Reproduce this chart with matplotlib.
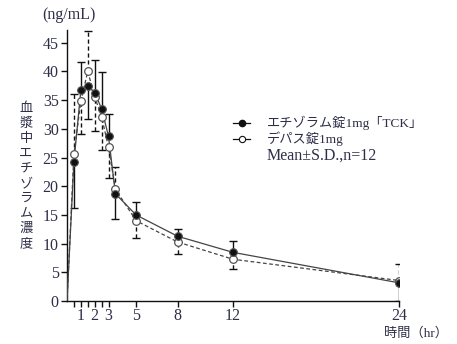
import matplotlib
matplotlib.use("Agg")
import matplotlib.pyplot as plt
from matplotlib.lines import Line2D

# Data
times = [0, 0.5, 1, 1.5, 2, 2.5, 3, 3.5, 5, 8, 12, 24]
etizolam_tck = [0, 24.2, 36.7, 37.4, 36.3, 33.5, 28.7, 18.7, 15.0, 11.3, 8.5, 3.2]
depas = [0, 25.6, 34.8, 40.0, 35.6, 32.1, 26.8, 19.5, 14.0, 10.3, 7.3, 3.6]
# one-sided SD bars as drawn (lower, upper)
tck_sd_lower = [0, 8.0, 0, 5.7, 0, 0, 0, 4.4, 0, 0, 0, 3.2]
tck_sd_upper = [0, 0, 5.0, 0, 5.6, 6.4, 3.8, 0, 2.3, 1.3, 1.9, 0]
depas_sd_lower = [0, 0, 5.7, 0, 5.9, 5.8, 5.4, 0, 3.0, 2.1, 1.7, 0]
depas_sd_upper = [0, 10.4, 0, 7.0, 0, 0, 0, 3.8, 0, 0, 0, 2.8]

major_ticks = [1, 2, 3, 5, 8, 12, 24]
minor_ticks = [0.5, 1.5, 2.5]
y_ticks = [0, 5, 10, 15, 20, 25, 30, 35, 40, 45]

txt = '#2e2e48'
serif_jp = ['Liberation Serif', 'Noto Sans CJK JP']
plt.rcParams['font.family'] = serif_jp

fig = plt.figure(figsize=(4.57, 3.44), dpi=100)
ax = fig.add_axes([67/457, (344-301.2)/344, (399-67)/457, (301.2-30)/344])

eb1 = ax.errorbar(times[1:], etizolam_tck[1:], yerr=[tck_sd_lower[1:], tck_sd_upper[1:]],
                  fmt='none', ecolor='#111111', elinewidth=1.0, capsize=3, capthick=1.0, zorder=2)
eb2 = ax.errorbar(times[1:], depas[1:], yerr=[depas_sd_lower[1:], depas_sd_upper[1:]],
                  fmt='none', ecolor='#111111', elinewidth=1.0, capsize=3, capthick=1.0, zorder=2)
for c in eb2[2]:
    c.set_linestyle((0, (3, 2)))

ax.plot(times, depas, color='#444444', lw=0.9, ls=(0, (3, 2)), zorder=3)
ax.plot(times, etizolam_tck, color='#444444', lw=0.9, zorder=3)
ax.plot(times[1:], depas[1:], 'o', ms=5.5, mfc='white', mec='#555555', mew=0.9, zorder=4)
ax.plot(times[1:], etizolam_tck[1:], 'o', ms=5.5, mfc='#111111', mec='#555555', mew=0.8, zorder=5)

ax.set_xlim(0, 24)
ax.set_ylim(0, 47.2)
for s in ['top', 'right']:
    ax.spines[s].set_visible(False)
for s in ['left', 'bottom']:
    ax.spines[s].set_linewidth(1.0)
    ax.spines[s].set_color('#111111')
ax.set_xticks(major_ticks)
ax.set_xticklabels([str(t) for t in major_ticks])
ax.set_xticks(minor_ticks, minor=True)
ax.set_yticks(y_ticks)
ax.tick_params(axis='both', direction='out', length=4, width=1.0, colors='#111111',
               labelcolor=txt, labelsize=11.5)
ax.tick_params(axis='x', which='minor', direction='out', length=4, width=1.0, colors='#111111')
ax.tick_params(axis='y', pad=2)
ax.tick_params(axis='x', pad=1)

# labels
fig.text(42/457, 1 - 15/344, '(ng/mL)', fontsize=11.5, color=txt, va='center', ha='left')
ylabel = '\n'.join('血漿中エチゾラム濃度')
fig.text(26/457, 1 - 176/344, ylabel, fontsize=9.5, color=txt, va='center', ha='center',
         linespacing=1.2, family=['Noto Sans CJK JP'])
fig.text(448/457, 1 - 333/344, '時間（hr）', fontsize=9.5, color=txt, va='center', ha='right')

# legend
ly = [123, 139, 156]
fig.add_artist(Line2D([233/457, 250/457], [1 - ly[0]/344]*2, color='#111111', lw=0.9))
fig.add_artist(Line2D([241.5/457], [1 - ly[0]/344], marker='o', ms=4.5, mfc='#111111', mec='#111111', lw=0))
fig.add_artist(Line2D([233/457, 250/457], [1 - ly[1]/344]*2, color='#111111', lw=0.9))
fig.add_artist(Line2D([241.5/457], [1 - ly[1]/344], marker='o', ms=4.5, mfc='white', mec='#111111', mew=0.8, lw=0))
fig.text(267/457, 1 - ly[0]/344, 'エチゾラム錠1mg「TCK」', fontsize=9.5, color=txt, va='center', ha='left')
fig.text(267/457, 1 - ly[1]/344, 'デパス錠1mg', fontsize=9.5, color=txt, va='center', ha='left')
fig.text(267/457, 1 - ly[2]/344, 'Mean±S.D.,n=12', fontsize=11.5, color=txt, va='center', ha='left')

fig.savefig('out.png', dpi=100)
